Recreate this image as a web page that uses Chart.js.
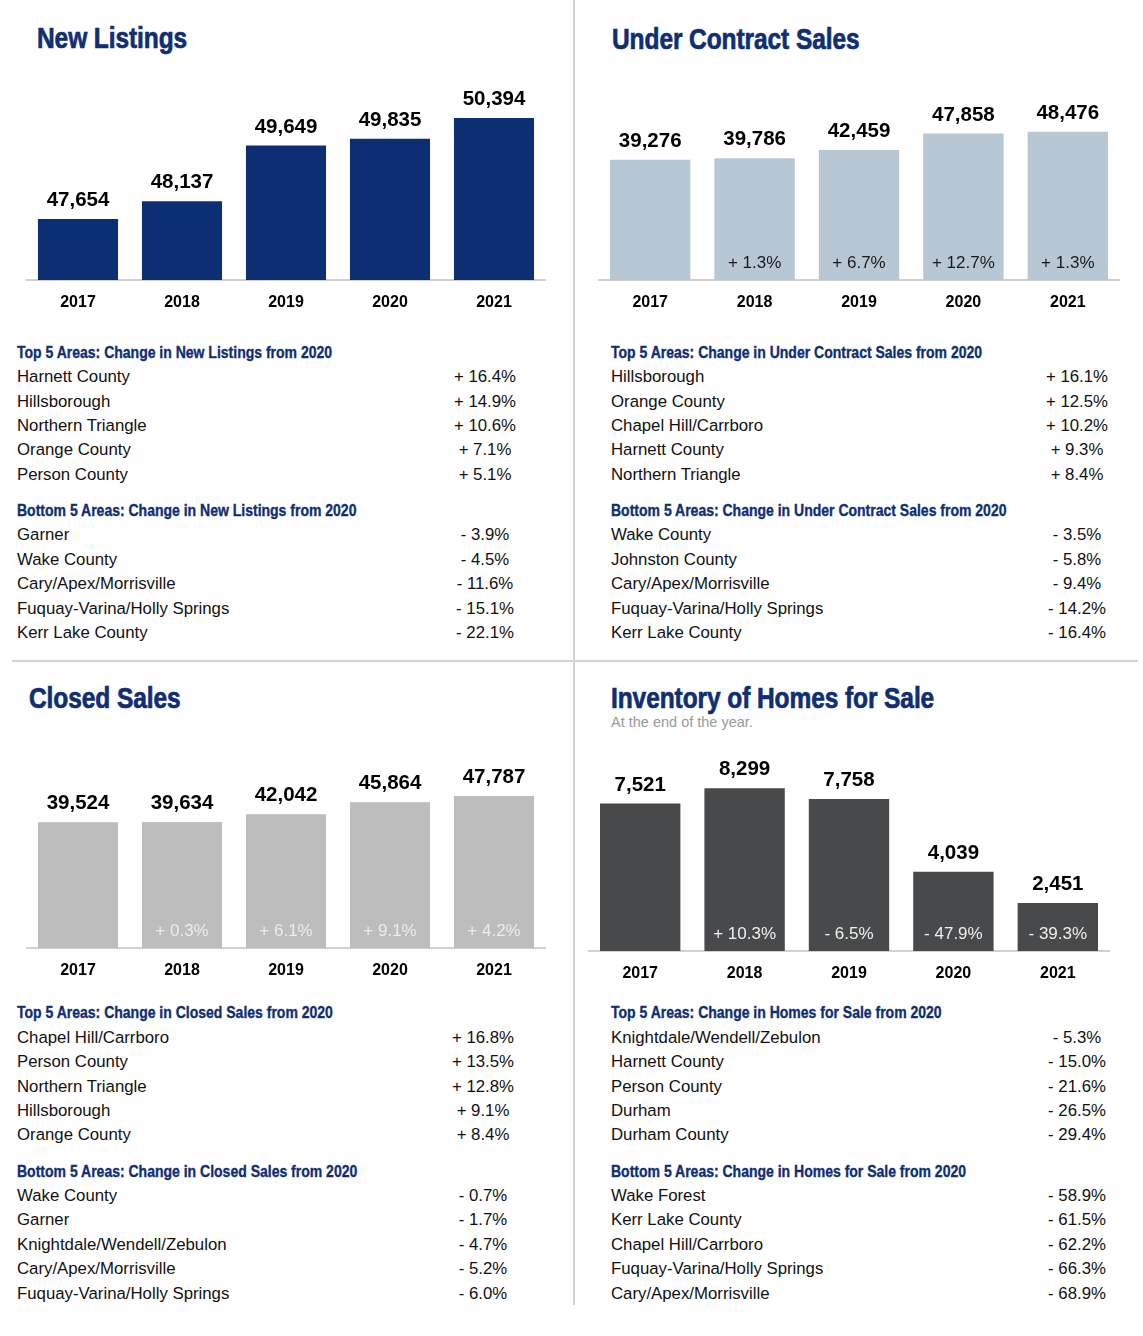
<!DOCTYPE html>
<html>
<head>
<meta charset="utf-8">
<script src="https://cdn.jsdelivr.net/npm/chart.js@4.4.1/dist/chart.umd.min.js"></script>
<style>
  html, body { margin: 0; padding: 0; background: #ffffff; }
  #page { position: relative; width: 1143px; height: 1336px; overflow: hidden; background: #fff;
          font-family: "Liberation Sans", Arial, Helvetica, sans-serif; }
  .title { position: absolute; font-weight: bold; font-size: 29px; line-height: 34px; color: #0f2f72;
           white-space: nowrap; transform: scaleX(0.845); transform-origin: 0 0; letter-spacing: -0.1px;
           -webkit-text-stroke: 0.7px #0f2f72; }
  .subtitle { position: absolute; font-size: 14.5px; line-height: 18px; color: #9a9a9a; white-space: nowrap; }
  .hdr { position: absolute; font-weight: bold; font-size: 16px; line-height: 20px; color: #0f2f72;
         white-space: nowrap; transform: scaleX(0.875); transform-origin: 0 0; -webkit-text-stroke: 0.35px #0f2f72; }
  .row { position: absolute; font-size: 16.8px; line-height: 20px; color: #111; white-space: nowrap; }
  .val { position: absolute; font-size: 16.8px; line-height: 20px; color: #111; white-space: nowrap;
         width: 140px; text-align: center; }
  .vline { position: absolute; background: #d4d4d4; }
  canvas { position: absolute; }
</style>
</head>
<body>
<div id="page">
  <div class="vline" style="left:573px; top:0; width:2px; height:1305px;"></div>
  <div class="vline" style="left:12px; top:660px; width:1126px; height:2px;"></div>

  <div class="title" style="left:37px; top:21px;">New Listings</div>
  <div class="title" style="left:612px; top:22px;">Under Contract Sales</div>
  <div class="title" style="left:29px; top:681px;">Closed Sales</div>
  <div class="title" style="left:611px; top:681px;">Inventory of Homes for Sale</div>
  <div class="subtitle" style="left:611px; top:713px;">At the end of the year.</div>

  <canvas id="c1" width="520" height="262" style="left:26px; top:60px;"></canvas>
  <canvas id="c2" width="522" height="262" style="left:598px; top:60px;"></canvas>
  <canvas id="c3" width="520" height="262" style="left:26px; top:728px;"></canvas>
  <canvas id="c4" width="522" height="262" style="left:588px; top:731px;"></canvas>
</div>
<script>
// ---------- DATA ----------
const years = ['2017', '2018', '2019', '2020', '2021'];

const newListings       = [47654, 48137, 49649, 49835, 50394];
const newListingsChange = ['', '+ 1.0%', '+ 3.1%', '+ 0.4%', '+ 1.1%'];

const underContract       = [39276, 39786, 42459, 47858, 48476];
const underContractChange = ['', '+ 1.3%', '+ 6.7%', '+ 12.7%', '+ 1.3%'];

const closedSales       = [39524, 39634, 42042, 45864, 47787];
const closedSalesChange = ['', '+ 0.3%', '+ 6.1%', '+ 9.1%', '+ 4.2%'];

const inventory       = [7521, 8299, 7758, 4039, 2451];
const inventoryChange = ['', '+ 10.3%', '- 6.5%', '- 47.9%', '- 39.3%'];

const nlTopAreas  = ['Harnett County', 'Hillsborough', 'Northern Triangle', 'Orange County', 'Person County'];
const nlTopVals   = ['+ 16.4%', '+ 14.9%', '+ 10.6%', '+ 7.1%', '+ 5.1%'];
const nlBotAreas  = ['Garner', 'Wake County', 'Cary/Apex/Morrisville', 'Fuquay-Varina/Holly Springs', 'Kerr Lake County'];
const nlBotVals   = ['- 3.9%', '- 4.5%', '- 11.6%', '- 15.1%', '- 22.1%'];

const ucTopAreas  = ['Hillsborough', 'Orange County', 'Chapel Hill/Carrboro', 'Harnett County', 'Northern Triangle'];
const ucTopVals   = ['+ 16.1%', '+ 12.5%', '+ 10.2%', '+ 9.3%', '+ 8.4%'];
const ucBotAreas  = ['Wake County', 'Johnston County', 'Cary/Apex/Morrisville', 'Fuquay-Varina/Holly Springs', 'Kerr Lake County'];
const ucBotVals   = ['- 3.5%', '- 5.8%', '- 9.4%', '- 14.2%', '- 16.4%'];

const csTopAreas  = ['Chapel Hill/Carrboro', 'Person County', 'Northern Triangle', 'Hillsborough', 'Orange County'];
const csTopVals   = ['+ 16.8%', '+ 13.5%', '+ 12.8%', '+ 9.1%', '+ 8.4%'];
const csBotAreas  = ['Wake County', 'Garner', 'Knightdale/Wendell/Zebulon', 'Cary/Apex/Morrisville', 'Fuquay-Varina/Holly Springs'];
const csBotVals   = ['- 0.7%', '- 1.7%', '- 4.7%', '- 5.2%', '- 6.0%'];

const invTopAreas = ['Knightdale/Wendell/Zebulon', 'Harnett County', 'Person County', 'Durham', 'Durham County'];
const invTopVals  = ['- 5.3%', '- 15.0%', '- 21.6%', '- 26.5%', '- 29.4%'];
const invBotAreas = ['Wake Forest', 'Kerr Lake County', 'Chapel Hill/Carrboro', 'Fuquay-Varina/Holly Springs', 'Cary/Apex/Morrisville'];
const invBotVals  = ['- 58.9%', '- 61.5%', '- 62.2%', '- 66.3%', '- 68.9%'];

// ---------- TABLES ----------
const page = document.getElementById('page');
function addDiv(cls, text, left, top) {
  const d = document.createElement('div');
  d.className = cls; d.textContent = text;
  d.style.left = left + 'px'; d.style.top = top + 'px';
  page.appendChild(d);
}
function buildTable(x, valCenter, y0, topTitle, topAreas, topVals, botTitle, botAreas, botVals) {
  const step = 24.4;
  addDiv('hdr', topTitle, x, y0 - 10);
  topAreas.forEach((a, i) => {
    addDiv('row', a, x, y0 + step * (i + 1) - 10);
    addDiv('val', topVals[i], valCenter - 70, y0 + step * (i + 1) - 10);
  });
  const y1 = y0 + 158.3;
  addDiv('hdr', botTitle, x, y1 - 10);
  botAreas.forEach((a, i) => {
    addDiv('row', a, x, y1 + step * (i + 1) - 10);
    addDiv('val', botVals[i], valCenter - 70, y1 + step * (i + 1) - 10);
  });
}
buildTable(17, 485, 352.7, 'Top 5 Areas: Change in New Listings from 2020', nlTopAreas, nlTopVals,
           'Bottom 5 Areas: Change in New Listings from 2020', nlBotAreas, nlBotVals);
buildTable(611, 1077, 352.7, 'Top 5 Areas: Change in Under Contract Sales from 2020', ucTopAreas, ucTopVals,
           'Bottom 5 Areas: Change in Under Contract Sales from 2020', ucBotAreas, ucBotVals);
buildTable(17, 483, 1013.3, 'Top 5 Areas: Change in Closed Sales from 2020', csTopAreas, csTopVals,
           'Bottom 5 Areas: Change in Closed Sales from 2020', csBotAreas, csBotVals);
buildTable(611, 1077, 1013.3, 'Top 5 Areas: Change in Homes for Sale from 2020', invTopAreas, invTopVals,
           'Bottom 5 Areas: Change in Homes for Sale from 2020', invBotAreas, invBotVals);

// ---------- CHARTS ----------
const FONT = '"Liberation Sans", Arial, Helvetica, sans-serif';
const barLabels = {
  id: 'barLabels',
  afterDatasetsDraw(chart, args, opts) {
    const ctx = chart.ctx;
    const meta = chart.getDatasetMeta(0);
    const data = chart.data.datasets[0].data;
    ctx.save();
    ctx.textAlign = 'center';
    ctx.textBaseline = 'alphabetic';
    meta.data.forEach((bar, i) => {
      ctx.font = 'bold 20.5px ' + FONT;
      ctx.fillStyle = '#000';
      ctx.fillText(data[i].toLocaleString('en-US'), bar.x, bar.y - 13);
      const ch = opts.changes[i];
      if (ch) {
        ctx.font = '17px ' + FONT;
        ctx.fillStyle = opts.changeColor;
        ctx.fillText(ch, bar.x, bar.base - 12);
      }
    });
    ctx.restore();
  }
};

function makeChart(id, values, changes, barColor, changeColor, yMin, yMax) {
  new Chart(document.getElementById(id), {
    type: 'bar',
    data: {
      labels: years,
      datasets: [{ data: values, backgroundColor: barColor, borderWidth: 0,
                   barPercentage: 0.77, categoryPercentage: 1.0 }]
    },
    options: {
      responsive: false,
      animation: false,
      devicePixelRatio: 1,
      layout: { padding: 0 },
      plugins: {
        legend: { display: false },
        tooltip: { enabled: false },
        barLabels: { changes: changes, changeColor: changeColor }
      },
      scales: {
        x: {
          grid: { display: false, drawTicks: false, tickLength: 0 },
          border: { display: true, color: '#d0d0d0', width: 2 },
          ticks: { color: '#000', font: { family: FONT, size: 16, weight: 'bold' }, padding: 13, maxRotation: 0 },
          afterFit: (scale) => { scale.height = 42; }
        },
        y: { display: false, min: yMin, max: yMax }
      }
    },
    plugins: [barLabels]
  });
}

makeChart('c1', newListings, newListingsChange, '#0c2f73', '#ece6ff', 46000, 51969);
makeChart('c2', underContract, underContractChange, '#b8c7d4', '#1a1a1a', 0, 71900);
makeChart('c3', closedSales, closedSalesChange, '#bdbdbd', '#ececec', 0, 69180);
makeChart('c4', inventory, inventoryChange, '#48494b', '#efefef', 0, 11224);
</script>
</body>
</html>
